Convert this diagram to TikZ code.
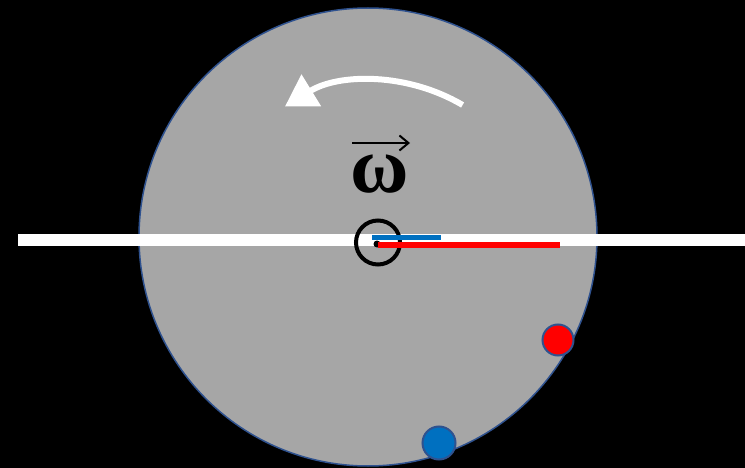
\documentclass[tikz,border=0pt]{standalone}
\usepackage{fontspec}
\newfontfamily\omegafont{Liberation Serif}
\usetikzlibrary{arrows.meta}
\definecolor{diskgray}{HTML}{A6A6A6}
\definecolor{rimblue}{HTML}{2F528F}
\definecolor{lineblue}{HTML}{0070C0}
\definecolor{linered}{HTML}{FF0000}
\tikzset{
  ball/.style={circle, draw=rimblue, line width=2pt, inner sep=0pt, minimum size=#1},
  seg/.style={line width=5.5pt, line cap=butt},
}
\begin{document}
\begin{tikzpicture}[x=1pt,y=-1pt]
\fill[black] (0,0) rectangle (745,468);
\useasboundingbox (0,0) rectangle (745,468);
% disk
\node[circle, draw=rimblue, line width=1.5pt, fill=diskgray, minimum size=458pt, inner sep=0pt] (disk) at (368,237) {};
% white bar
\node[rectangle, fill=white, inner sep=0pt, minimum width=727pt, minimum height=12pt, anchor=west] (bar) at (18,240) {};
% axis circle
\node[circle, draw=black, line width=4pt, minimum size=44pt, inner sep=0pt] (axis) at (378,242.5) {};
\node[circle, fill=black, inner sep=0pt, minimum size=7pt] (ctr) at (377,244) {};
% blue and red radius lines
\coordinate (b0) at (372,237.5);
\coordinate (b1) at (441,237.5);
\coordinate (r0) at (378,245);
\coordinate (r1) at (560,245);
\draw[seg, lineblue] (b0) -- (b1);
\draw[seg, linered] (r0) -- (r1);
% balls
\node[ball=31pt, fill=linered] (redball) at (558,340) {};
\node[ball=33pt, fill=lineblue] (blueball) at (439,443) {};
% rotation arrow
\coordinate (a0) at (462.6,105);
\draw[white, line width=6pt, -{Triangle[length=31pt,width=36pt]}] (a0) arc[start angle=-59.4, end angle=-121.6, radius=172];
% omega
\node[inner sep=0pt, font=\omegafont\bfseries\fontsize{80}{90}\selectfont] (w) at (380,174) {ω};
\coordinate (v0) at (352,143);
\coordinate (v1) at (410,143);
\draw[black, line width=2pt, -{Straight Barb[length=9pt,width=15pt]}] (v0) -- (v1);
\end{tikzpicture}
\end{document}
